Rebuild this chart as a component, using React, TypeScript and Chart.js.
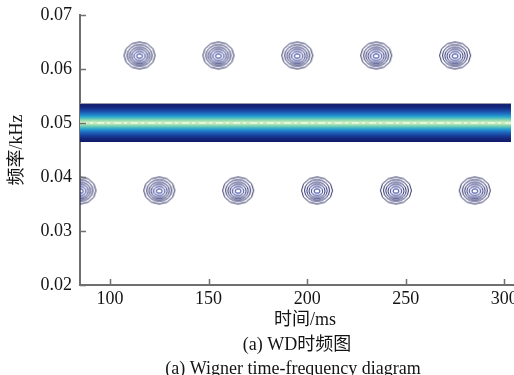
import { useEffect, useRef } from 'react';
import { Chart, registerables } from 'chart.js';

Chart.register(...registerables);

// ---- data ----
const X_MIN = 84.8;
const X_MAX = 313;
const Y_MIN = 0.02;
const Y_MAX = 0.07;
const X_TICKS = [100, 150, 200, 250, 300];
const Y_TICKS = [0.02, 0.03, 0.04, 0.05, 0.06, 0.07];

const BAND_START = 84.8;
const BAND_END = 303.4;
const BAND_CENTER = 0.05;
const BAND_HIGH = 0.0536;
const BAND_LOW = 0.0465;

const UPPER_ROW_TIMES = [115, 155, 195, 235, 275];
const UPPER_ROW_FREQ = 0.0625;
const LOWER_ROW_TIMES = [85, 125, 165, 205, 245, 285];
const LOWER_ROW_FREQ = 0.0375;

const X_TITLE = '时间/ms';
const Y_TITLE = '频率/kHz';
const CAPTION_ZH = '(a) WD时频图';
const CAPTION_EN = '(a) Wigner time-frequency diagram';

const FONT = '"Liberation Serif", "Noto Sans CJK SC", serif';
const AXIS_COLOR = '#6f6f6f';
const CANVAS_W = 532;
const CANVAS_H = 375;

function makeContourGlyph(): HTMLCanvasElement {
  const c = document.createElement('canvas');
  c.width = 36;
  c.height = 32;
  const g = c.getContext('2d') as CanvasRenderingContext2D;
  const cx = 18;
  const cy = 16;
  g.lineWidth = 1;
  // outer faceted ring
  g.strokeStyle = '#2c2f62';
  g.beginPath();
  const n = 12;
  for (let k = 0; k <= n; k++) {
    const a = (k / n) * Math.PI * 2;
    const px = cx + 15.5 * Math.cos(a);
    const py = cy + 13.5 * Math.sin(a);
    if (k === 0) g.moveTo(px, py);
    else g.lineTo(px, py);
  }
  g.stroke();
  const rings: [number, number, number, string][] = [
    [12.5, 10.8, 0, '#282b66'],
    [10.2, 8.7, 0.3, '#23276c'],
    [8, 6.8, 0.5, '#202574'],
    [5.6, 4.6, 0.6, '#1d2580'],
    [3, 2.2, 0.6, '#1a2a98'],
  ];
  for (const [rx, ry, dy, col] of rings) {
    g.strokeStyle = col;
    g.beginPath();
    g.ellipse(cx, cy + dy, rx, ry, 0, 0, Math.PI * 2);
    g.stroke();
  }
  return c;
}

const inwardTicks = {
  id: 'inwardTicks',
  afterDraw(chart: any) {
    const { ctx, chartArea, scales } = chart;
    const x = scales.x;
    const y = scales.y;
    ctx.save();
    ctx.strokeStyle = AXIS_COLOR;
    ctx.lineWidth = 1.5;
    x.ticks.forEach((t: any) => {
      const px = Math.round(x.getPixelForValue(t.value)) + 0.5;
      ctx.beginPath();
      ctx.moveTo(px, chartArea.bottom);
      ctx.lineTo(px, chartArea.bottom - 6);
      ctx.stroke();
    });
    y.ticks.forEach((t: any) => {
      const py = Math.round(y.getPixelForValue(t.value)) + 0.5;
      ctx.beginPath();
      ctx.moveTo(chartArea.left, py);
      ctx.lineTo(chartArea.left + 6, py);
      ctx.stroke();
    });
    ctx.restore();
  },
};

const captions = {
  id: 'captions',
  afterDraw(chart: any) {
    const { ctx } = chart;
    ctx.save();
    ctx.font = '18px ' + FONT;
    ctx.fillStyle = '#141414';
    ctx.textAlign = 'center';
    ctx.textBaseline = 'middle';
    ctx.fillText(CAPTION_ZH, 297, 345);
    ctx.fillText(CAPTION_EN, 293, 369);
    ctx.restore();
  },
};

export default function App() {
  const ref = useRef<HTMLCanvasElement | null>(null);

  useEffect(() => {
    if (!ref.current) return;
    const glyph = makeContourGlyph();

    const bandFill = (c: any) => {
      const chart = c.chart;
      if (!chart.chartArea) return 'rgba(0,0,0,0)';
      const ys = chart.scales.y;
      const top = ys.getPixelForValue(BAND_HIGH);
      const bot = ys.getPixelForValue(BAND_LOW);
      const g = chart.ctx.createLinearGradient(0, top, 0, bot);
      g.addColorStop(0, '#0f1a68');
      g.addColorStop(0.1, '#15287f');
      g.addColorStop(0.19, '#1a4aa6');
      g.addColorStop(0.27, '#1f72c2');
      g.addColorStop(0.34, '#28a4cf');
      g.addColorStop(0.4, '#66c8b8');
      g.addColorStop(0.46, '#b0e4b2');
      g.addColorStop(0.5, '#d2eec4');
      g.addColorStop(0.54, '#b0e4b2');
      g.addColorStop(0.6, '#66c8b8');
      g.addColorStop(0.66, '#28a4cf');
      g.addColorStop(0.73, '#1f72c2');
      g.addColorStop(0.81, '#1a4aa6');
      g.addColorStop(0.9, '#15287f');
      g.addColorStop(1, '#0f1a68');
      return g;
    };

    const chart = new Chart(ref.current, {
      type: 'scatter',
      data: {
        datasets: [
          {
            type: 'scatter',
            label: 'upper',
            data: UPPER_ROW_TIMES.map((t) => ({ x: t, y: UPPER_ROW_FREQ })),
            pointStyle: glyph,
            pointRadius: 14,
            clip: 0,
          } as any,
          {
            type: 'scatter',
            label: 'lower',
            data: LOWER_ROW_TIMES.map((t) => ({ x: t, y: LOWER_ROW_FREQ })),
            pointStyle: glyph,
            pointRadius: 14,
            clip: 0,
          } as any,
          {
            type: 'line',
            label: 'center',
            data: [
              { x: BAND_START, y: BAND_CENTER },
              { x: BAND_END, y: BAND_CENTER },
            ],
            borderColor: 'rgba(245,252,238,0.85)',
            borderWidth: 1.5,
            borderDash: [7, 3, 3, 4],
            pointRadius: 0,
            fill: false,
            clip: 0,
          } as any,
          {
            type: 'line',
            label: 'band',
            data: [
              { x: BAND_START, y: BAND_HIGH },
              { x: BAND_END, y: BAND_HIGH },
            ],
            borderColor: '#9c9cab',
            borderWidth: 1,
            backgroundColor: bandFill,
            fill: { value: BAND_LOW },
            pointRadius: 0,
            clip: 0,
          } as any,
        ],
      },
      options: {
        animation: false,
        responsive: false,
        maintainAspectRatio: false,
        devicePixelRatio: 1,
        events: [],
        layout: { autoPadding: false, padding: { top: 15, right: 2, left: 0, bottom: 0 } },
        plugins: {
          legend: { display: false },
          tooltip: { enabled: false },
        },
        scales: {
          x: {
            type: 'linear',
            min: X_MIN,
            max: X_MAX,
            z: 1,
            afterBuildTicks: (s: any) => {
              s.ticks = X_TICKS.map((v) => ({ value: v }));
            },
            afterFit: (s: any) => {
              s.height = 90;
              s.paddingLeft = 0;
              s.paddingRight = 0;
            },
            grid: { drawOnChartArea: false, drawTicks: false },
            border: { display: true, color: AXIS_COLOR, width: 2 },
            ticks: {
              padding: 3,
              maxRotation: 0,
              autoSkip: false,
              color: '#141414',
              font: { family: FONT, size: 18 },
              callback: (v: any) => String(v),
            },
            title: {
              display: true,
              text: X_TITLE,
              color: '#141414',
              font: { family: FONT, size: 18 },
              padding: { top: 0, bottom: 44 },
            },
          },
          y: {
            type: 'linear',
            min: Y_MIN,
            max: Y_MAX,
            z: 1,
            afterBuildTicks: (s: any) => {
              s.ticks = Y_TICKS.map((v) => ({ value: v }));
            },
            afterFit: (s: any) => {
              s.width = 80;
              s.paddingTop = 0;
              s.paddingBottom = 0;
            },
            grid: { drawOnChartArea: false, drawTicks: false },
            border: { display: true, color: AXIS_COLOR, width: 2 },
            ticks: {
              padding: 8,
              autoSkip: false,
              color: '#141414',
              font: { family: FONT, size: 18 },
              callback: (v: any) => Number(v).toFixed(2),
            },
            title: {
              display: true,
              text: Y_TITLE,
              color: '#141414',
              font: { family: FONT, size: 18 },
              padding: { top: 6, bottom: 0 },
            },
          },
        },
      },
      plugins: [inwardTicks, captions],
    } as any);

    return () => chart.destroy();
  }, []);

  return (
    <div
      style={{
        position: 'absolute',
        left: 0,
        top: 0,
        width: 514,
        height: 375,
        overflow: 'hidden',
        background: '#ffffff',
      }}
    >
      <canvas
        ref={ref}
        width={CANVAS_W}
        height={CANVAS_H}
        style={{ display: 'block', width: CANVAS_W, height: CANVAS_H }}
      />
    </div>
  );
}
